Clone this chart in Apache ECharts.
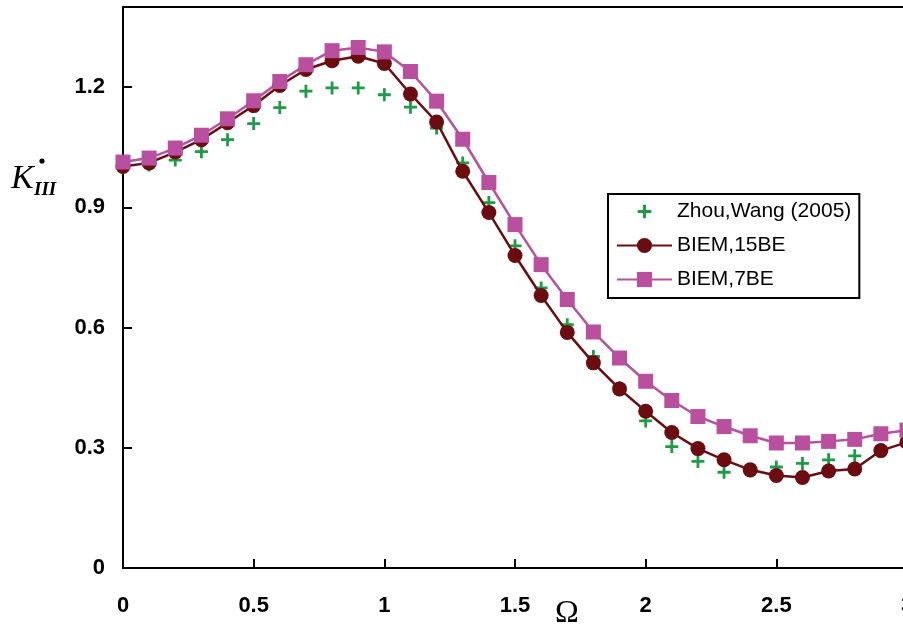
<!DOCTYPE html>
<html style="height: 100%">
   <head>
       <meta charset="utf-8">
       <script type="text/javascript" src="https://cdn.jsdelivr.net/npm/echarts/dist/echarts.min.js"></script>
   </head>
   <body style="height: 100%; margin: 0; background: #fff">
       <div id="chartContainer" style="width: 903px; height: 629px"></div>
   </body>
</html>
<script type="text/javascript">
    // Omega values (x axis)
    var omega = [0, 0.1, 0.2, 0.3, 0.4, 0.5, 0.6, 0.7, 0.8, 0.9, 1.0,
                 1.1, 1.2, 1.3, 1.4, 1.5, 1.6, 1.7, 1.8, 1.9, 2.0,
                 2.1, 2.2, 2.3, 2.4, 2.5, 2.6, 2.7, 2.8, 2.9, 3.0];
    var zhouWang = [1.000, 1.006, 1.018, 1.039, 1.069, 1.109, 1.149, 1.190, 1.198, 1.198, 1.181,
                    1.150, 1.098, 1.011, 0.912, 0.804, 0.699, 0.607, 0.528, 0.450, 0.367,
                    0.303, 0.266, 0.239, 0.242, 0.252, 0.261, 0.270, 0.280, 0.292, 0.305];
    var biem15 = [1.002, 1.011, 1.038, 1.069, 1.111, 1.154, 1.204, 1.244, 1.266, 1.277, 1.259,
                  1.183, 1.113, 0.990, 0.887, 0.780, 0.680, 0.588, 0.512, 0.447, 0.391,
                  0.338, 0.298, 0.270, 0.245, 0.231, 0.226, 0.242, 0.247, 0.293, 0.314];
    var biem7 = [1.013, 1.023, 1.048, 1.080, 1.121, 1.166, 1.214, 1.256, 1.291, 1.299, 1.288,
                 1.239, 1.165, 1.070, 0.962, 0.857, 0.757, 0.670, 0.589, 0.524, 0.466,
                 0.418, 0.378, 0.353, 0.330, 0.312, 0.312, 0.316, 0.321, 0.335, 0.344];
    var seriesNames = ['Zhou,Wang (2005)', 'BIEM,15BE', 'BIEM,7BE'];

    function pairs(ys) {
        var out = [];
        for (var i = 0; i < omega.length; i++) {
            out.push([omega[i], ys[i]]);
        }
        return out;
    }

    // plus sign, with empty margin so it sits smaller inside its box
    var crossPath = 'path://M0,0 M18,18 M7.6,2.5 L10.4,2.5 L10.4,7.6 L15.5,7.6 L15.5,10.4 L10.4,10.4 L10.4,15.5 L7.6,15.5 L7.6,10.4 L2.5,10.4 L2.5,7.6 L7.6,7.6 Z';

    var dom = document.getElementById("chartContainer");
    var myChart = echarts.init(dom);
    var labelFont = {color: '#000', fontFamily: 'Liberation Sans', fontWeight: 'bold', fontSize: 22};

    var option = {
        backgroundColor: '#fff',
        animation: false,
        grid: {
            left: 123, top: 7, right: -4, bottom: 61,
            outerBoundsMode: 'none',
            containLabel: false,
            show: true, borderColor: '#000', borderWidth: 2
        },
        legend: {
            orient: 'vertical',
            left: 608, top: 194,
            padding: [7, 8, 8, 8],
            itemWidth: 55, itemHeight: 19, itemGap: 13,
            borderColor: '#000', borderWidth: 2,
            backgroundColor: '#fff',
            textStyle: {color: '#000', fontFamily: 'Liberation Sans', fontSize: 21},
            data: [
                {name: seriesNames[0], icon: crossPath},
                seriesNames[1],
                seriesNames[2]
            ]
        },
        xAxis: {
            type: 'value',
            min: 0, max: 3, interval: 0.5,
            axisLine: {lineStyle: {color: '#000', width: 2}},
            axisTick: {inside: true, length: 9, lineStyle: {color: '#000', width: 2}},
            axisLabel: Object.assign({margin: 27}, labelFont),
            splitLine: {show: false}
        },
        yAxis: {
            type: 'value',
            min: 0, max: 1.4, interval: 0.3,
            axisLine: {show: true, lineStyle: {color: '#000', width: 2}},
            axisTick: {show: true, inside: true, length: 9, lineStyle: {color: '#000', width: 2}},
            axisLabel: Object.assign({
                margin: 18,
                showMaxLabel: false,
                formatter: function (v) { return v > 1.3 ? '' : String(Math.round(v * 10) / 10); }
            }, labelFont),
            splitLine: {show: false}
        },
        graphic: [
            {type: 'text', left: 11, top: 162,
             style: {text: 'K', fill: '#000', font: 'italic 34px "Liberation Serif"'}},
            {type: 'circle', shape: {cx: 42, cy: 161, r: 2.6}, style: {fill: '#000'}},
            {type: 'text', left: 34, top: 181,
             style: {text: 'III', fill: '#000', font: 'italic bold 19px "Liberation Serif"'}},
            {type: 'text', left: 555, top: 598,
             style: {text: 'Ω', fill: '#000', font: '32px "Liberation Serif"'}}
        ],
        series: [
            {
                name: seriesNames[0],
                type: 'scatter',
                symbol: crossPath,
                symbolSize: 18,
                itemStyle: {color: '#1f9a47', opacity: 1},
                data: pairs(zhouWang)
            },
            {
                name: seriesNames[1],
                type: 'line',
                symbol: 'circle',
                symbolSize: 15,
                itemStyle: {color: '#6b0d10'},
                lineStyle: {color: '#6b0d10', width: 2.5},
                data: pairs(biem15)
            },
            {
                name: seriesNames[2],
                type: 'line',
                symbol: 'rect',
                symbolSize: 15,
                itemStyle: {color: '#b94f9f'},
                lineStyle: {color: '#b94f9f', width: 2.5},
                data: pairs(biem7)
            }
        ]
    };

    if (option && typeof option === "object") {
        myChart.setOption(option, true);
    }
</script>
